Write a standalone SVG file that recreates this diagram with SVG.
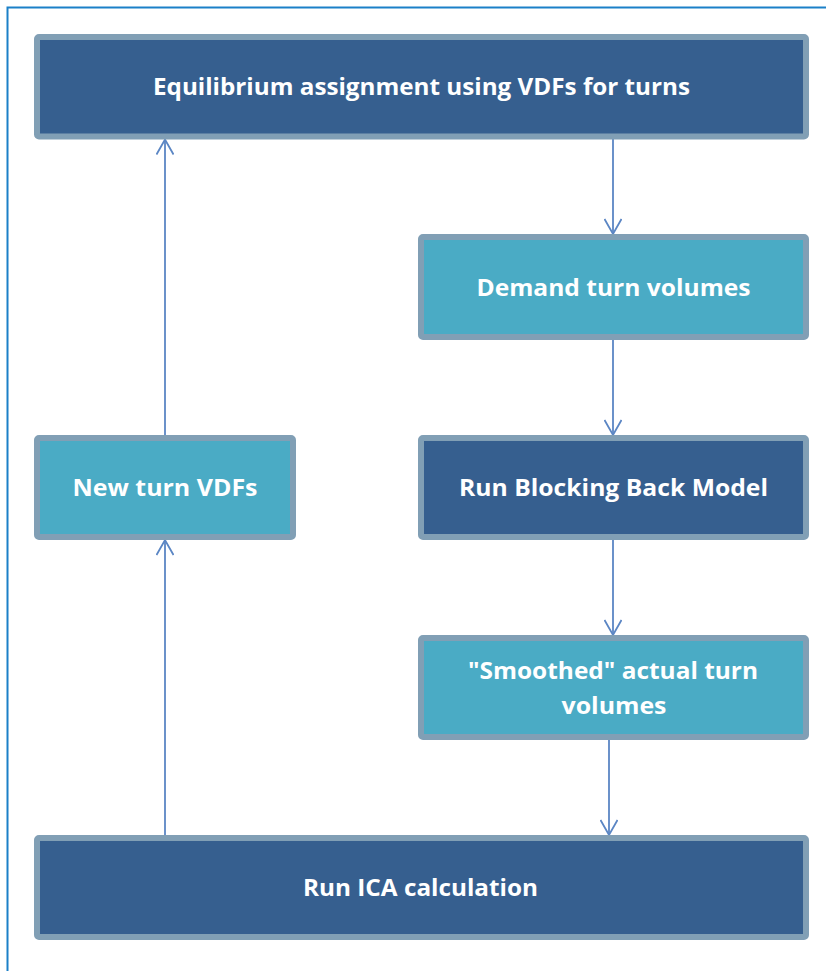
<svg xmlns="http://www.w3.org/2000/svg" width="826" height="971" viewBox="0 0 826 971">
  <defs>
    <style>
      .box { stroke: #819fb5; stroke-width: 6; }
      .dark { fill: #365f8f; }
      .aqua { fill: #4aabc5; }
      .lbl { font-family: "Open Sans", "Liberation Sans", sans-serif; font-weight: bold; font-size: 23.5px; fill: #ffffff; text-anchor: middle; }
      .conn { stroke: #5b86c4; stroke-width: 1.8; fill: none; }
    </style>
    <marker id="arrow" viewBox="0 0 20 18" refX="18" refY="9" markerWidth="20" markerHeight="18" markerUnits="userSpaceOnUse" orient="auto">
      <path d="M3,0.5 L18,9 L3,17.5" fill="none" stroke="#5b86c4" stroke-width="1.8"/>
    </marker>
  </defs>

  <rect x="0" y="0" width="826" height="971" fill="#ffffff"/>
  <!-- outer frame -->
  <rect x="7.5" y="7.5" width="830" height="980" fill="none" stroke="#1b80c8" stroke-width="2"/>

  <g id="connectors">
    <line class="conn" x1="613" y1="139" x2="613" y2="234" marker-end="url(#arrow)"/>
    <line class="conn" x1="613" y1="340" x2="613" y2="435" marker-end="url(#arrow)"/>
    <line class="conn" x1="613" y1="540" x2="613" y2="635" marker-end="url(#arrow)"/>
    <line class="conn" x1="609" y1="740" x2="609" y2="835" marker-end="url(#arrow)"/>
    <line class="conn" x1="165" y1="835" x2="165" y2="540" marker-end="url(#arrow)"/>
    <line class="conn" x1="165" y1="435" x2="165" y2="139.5" marker-end="url(#arrow)"/>
  </g>

  <g id="equilibrium">
    <rect class="box dark" x="37" y="37" width="769" height="99.5" rx="2"/>
    <text class="lbl" x="421.5" y="95" textLength="537" lengthAdjust="spacingAndGlyphs">Equilibrium assignment using VDFs for turns</text>
  </g>

  <g id="demand">
    <rect class="box aqua" x="421" y="237" width="385" height="100" rx="2"/>
    <text class="lbl" x="613.5" y="295.5" textLength="274" lengthAdjust="spacingAndGlyphs">Demand turn volumes</text>
  </g>

  <g id="newvdfs">
    <rect class="box aqua" x="37" y="438" width="256" height="99" rx="2"/>
    <text class="lbl" x="165" y="496" textLength="185" lengthAdjust="spacingAndGlyphs">New turn VDFs</text>
  </g>

  <g id="blocking">
    <rect class="box dark" x="421" y="438" width="385" height="99" rx="2"/>
    <text class="lbl" x="613.5" y="496" textLength="309" lengthAdjust="spacingAndGlyphs">Run Blocking Back Model</text>
  </g>

  <g id="smoothed">
    <rect class="box aqua" x="421" y="638" width="385" height="99" rx="2"/>
    <text class="lbl" x="613" y="679" textLength="290" lengthAdjust="spacingAndGlyphs">"Smoothed" actual turn</text>
    <text class="lbl" x="614" y="714" textLength="105" lengthAdjust="spacingAndGlyphs">volumes</text>
  </g>

  <g id="ica">
    <rect class="box dark" x="37" y="838" width="769" height="99" rx="2"/>
    <text class="lbl" x="420.5" y="896" textLength="235" lengthAdjust="spacingAndGlyphs">Run ICA calculation</text>
  </g>
</svg>
